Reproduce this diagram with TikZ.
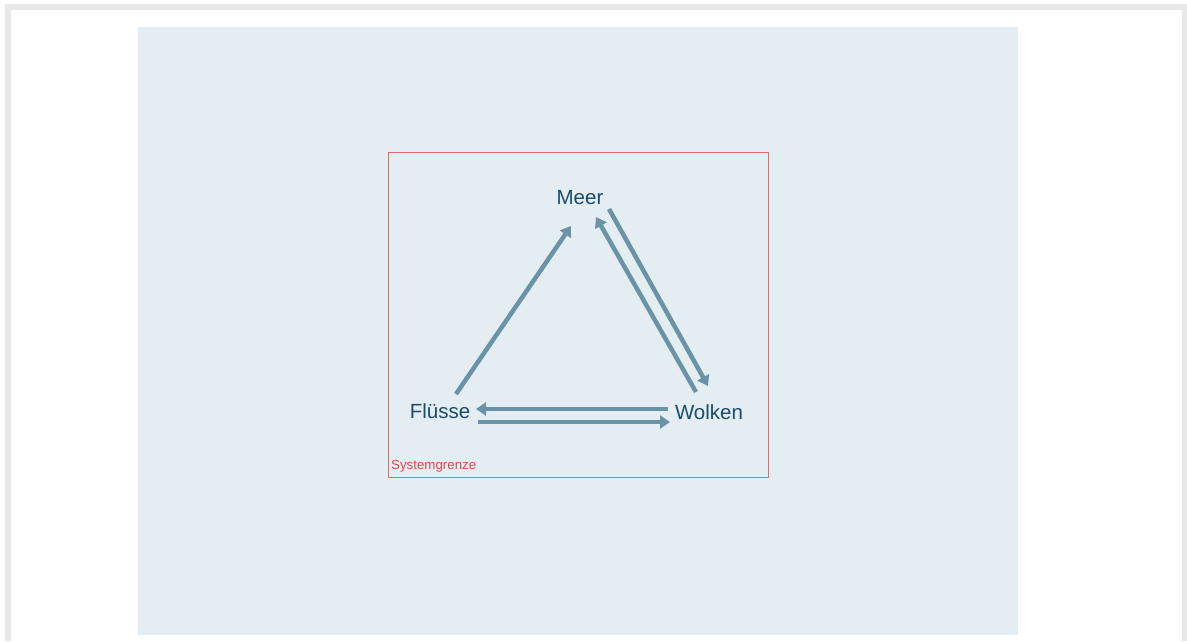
\documentclass[tikz,border=0pt]{standalone}
\usepackage{fontspec}
\setmainfont{Liberation Sans}
\usetikzlibrary{arrows.meta}
\definecolor{framegray}{HTML}{E8E8E8}
\definecolor{panelblue}{HTML}{E4EDF1}
\definecolor{arrowblue}{HTML}{6A93A8}
\definecolor{textblue}{HTML}{1B4C6B}
\definecolor{bordred}{HTML}{E46A6E}
\definecolor{labred}{HTML}{E0474C}
\begin{document}
\begin{tikzpicture}[x=1pt,y=-1pt,
  flow/.style={draw=arrowblue, line width=4.5pt, -{Triangle[length=10pt,width=13pt]}},
  station/.style={text=textblue, font=\fontsize{20.5}{24}\selectfont, inner sep=0pt, anchor=center},
  boundlabel/.style={text=labred, font=\fontsize{13.3}{15}\selectfont, inner sep=0pt, anchor=west}]
\useasboundingbox (0,0) rectangle (1187,641);
\fill[white] (0,0) rectangle (1187,641);
\fill[framegray] (5,4) rectangle (1187,641);
\fill[white] (11,10) rectangle (1182,641);
\fill[panelblue] (138,27) rectangle (1018,635);
\node[draw=bordred, line width=1pt, minimum width=380pt, minimum height=325pt, inner sep=0pt, anchor=north west] (sys) at (388,152) {};
\node[station] (meer) at (580,198) {Meer};
\node[station] (fluesse) at (440,411) {Flüsse};
\node[station] (wolken) at (709,412) {Wolken};
\node[boundlabel] (sgl) at (391,466) {Systemgrenze};
% connector end points
\coordinate (fm0) at (456,394);
\coordinate (fm1) at (571,226);
\coordinate (mw0) at (609,209);
\coordinate (mw1) at (708,386);
\coordinate (wm0) at (696,392);
\coordinate (wm1) at (596,217);
\coordinate (wf0) at (668,409);
\coordinate (wf1) at (476,409);
\coordinate (fw0) at (478,422);
\coordinate (fw1) at (670,422);
\draw[flow] (fm0) -- (fm1);
\draw[flow] (mw0) -- (mw1);
\draw[flow] (wm0) -- (wm1);
\draw[flow] (wf0) -- (wf1);
\draw[flow] (fw0) -- (fw1);
\end{tikzpicture}
\end{document}
